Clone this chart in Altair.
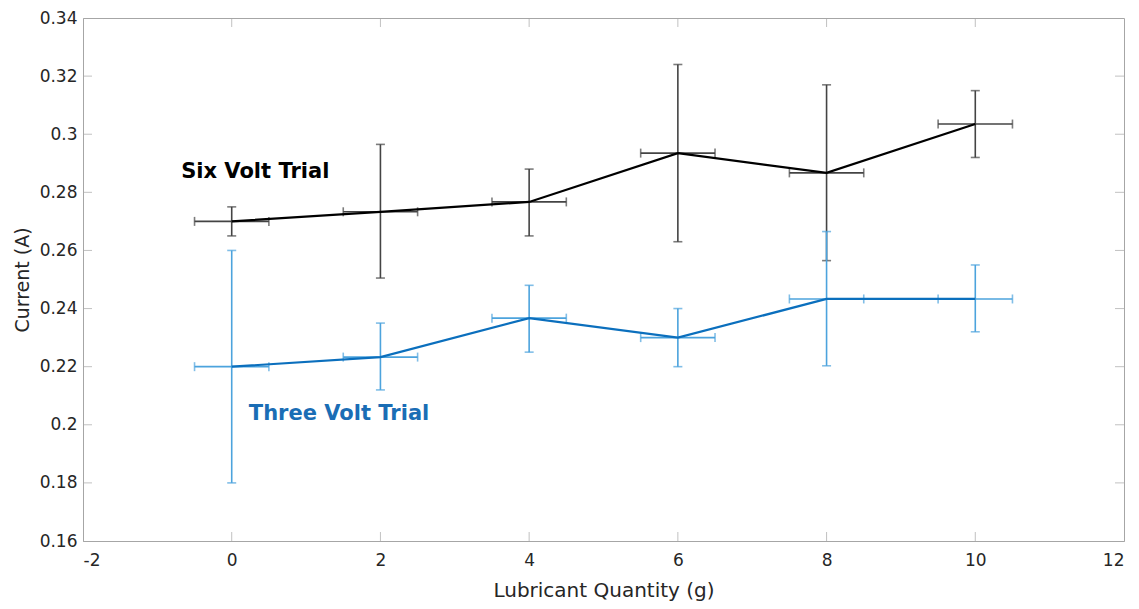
import altair as alt
import pandas as pd

x_vals = [0, 2, 4, 6, 8, 10]
x_err = [0.5, 0.5, 0.5, 0.5, 0.5, 0.5]

six_mean = [0.270, 0.2733, 0.2767, 0.2935, 0.2867, 0.3035]
six_low = [0.265, 0.2505, 0.265, 0.263, 0.2565, 0.292]
six_high = [0.275, 0.2965, 0.288, 0.324, 0.317, 0.315]

three_mean = [0.220, 0.2233, 0.2367, 0.230, 0.2433, 0.2433]
three_low = [0.180, 0.212, 0.225, 0.220, 0.2203, 0.232]
three_high = [0.260, 0.235, 0.248, 0.240, 0.2665, 0.255]

x_ticks = [-2, 0, 2, 4, 6, 8, 10, 12]
y_ticks = [0.16, 0.18, 0.2, 0.22, 0.24, 0.26, 0.28, 0.3, 0.32, 0.34]

labels = ["Six Volt Trial", "Three Volt Trial"]
label_x = [-0.68, 0.23]
label_y = [0.2869, 0.2036]

W, H = 1041, 523
FONT = "DejaVu Sans"
FRAME = "#a6a6a6"
TXT = "#262626"

rows = []
for s, m, lo, hi in [("six", six_mean, six_low, six_high), ("three", three_mean, three_low, three_high)]:
    for i, x in enumerate(x_vals):
        rows.append(dict(series=s, x=x, y=m[i], ylo=lo[i], yhi=hi[i],
                         xlo=x - x_err[i], xhi=x + x_err[i]))
df = pd.DataFrame(rows)

xs = alt.Scale(domain=[x_ticks[0], x_ticks[-1]], nice=False, zero=False)
ys = alt.Scale(domain=[y_ticks[0], y_ticks[-1]], nice=False, zero=False)

xax = alt.Axis(values=x_ticks, title="Lubricant Quantity (g)", grid=False, tickSize=0,
               labelFontSize=17, titleFontSize=20, labelFont=FONT, titleFont=FONT,
               labelColor=TXT, titleColor=TXT, labelPadding=11, titlePadding=12,
               domainColor=FRAME, titleFontWeight="normal",
               labelExpr="'' + datum.value")
yax = alt.Axis(values=y_ticks, title="Current (A)", grid=False, tickSize=0,
               labelFontSize=17, titleFontSize=19, labelFont=FONT, titleFont=FONT,
               labelColor=TXT, titleColor=TXT, labelPadding=6,
               titleX=-61, titleBaseline="middle", titleAngle=270,
               domainColor=FRAME, titleFontWeight="normal",
               labelExpr="format(datum.value, '.2~f')")

base = alt.Chart(df)

layers = [
    base.mark_point(opacity=0).encode(
        x=alt.X("x:Q", scale=xs, axis=xax),
        y=alt.Y("y:Q", scale=ys, axis=yax)),
]

# inward ticks on all four sides of the box
inner = [t for t in x_ticks[1:-1]]
inner_y = [t for t in y_ticks[1:-1]]
xt_df = pd.DataFrame({"t": inner, "b": [y_ticks[0]] * len(inner), "tp": [y_ticks[-1]] * len(inner)})
yt_df = pd.DataFrame({"t": inner_y, "l": [x_ticks[0]] * len(inner_y), "r": [x_ticks[-1]] * len(inner_y)})
layers.append(alt.Chart(xt_df).mark_tick(color=FRAME, orient="vertical", size=9, thickness=1, yOffset=-4.5).encode(
    x=alt.X("t:Q", scale=xs), y=alt.Y("b:Q", scale=ys)))
layers.append(alt.Chart(xt_df).mark_tick(color=FRAME, orient="vertical", size=9, thickness=1, yOffset=4.5).encode(
    x=alt.X("t:Q", scale=xs), y=alt.Y("tp:Q", scale=ys)))
layers.append(alt.Chart(yt_df).mark_tick(color=FRAME, orient="horizontal", size=9, thickness=1, xOffset=4.5).encode(
    y=alt.Y("t:Q", scale=ys), x=alt.X("l:Q", scale=xs)))
layers.append(alt.Chart(yt_df).mark_tick(color=FRAME, orient="horizontal", size=9, thickness=1, xOffset=-4.5).encode(
    y=alt.Y("t:Q", scale=ys), x=alt.X("r:Q", scale=xs)))

colors = {"six": ("#444444", "#000000"), "three": ("#4ca3dd", "#0b6fbd")}
for s in ["six", "three"]:
    bar_c, line_c = colors[s]
    d = base.transform_filter(alt.datum.series == s)
    layers.append(d.mark_rule(color=bar_c, strokeWidth=1.6).encode(
        x=alt.X("x:Q", scale=xs), y=alt.Y("ylo:Q", scale=ys), y2="yhi:Q"))
    layers.append(d.mark_rule(color=bar_c, strokeWidth=1.6).encode(
        y=alt.Y("y:Q", scale=ys), x=alt.X("xlo:Q", scale=xs), x2="xhi:Q"))
    for f in ["ylo", "yhi"]:
        layers.append(d.mark_tick(color=bar_c, orient="horizontal", size=9, thickness=1.6).encode(
            x=alt.X("x:Q", scale=xs), y=alt.Y(f + ":Q", scale=ys)))
    for f in ["xlo", "xhi"]:
        layers.append(d.mark_tick(color=bar_c, orient="vertical", size=9, thickness=1.6).encode(
            x=alt.X(f + ":Q", scale=xs), y=alt.Y("y:Q", scale=ys)))
    layers.append(d.mark_line(color=line_c, strokeWidth=2.2).encode(
        x=alt.X("x:Q", scale=xs), y=alt.Y("y:Q", scale=ys)))

lab_df = pd.DataFrame({"label": labels, "x": label_x, "y": label_y, "c": ["black", "blue"]})
layers.append(alt.Chart(lab_df).mark_text(align="left", baseline="middle", font=FONT,
                                          fontSize=21, fontWeight="bold").encode(
    x=alt.X("x:Q", scale=xs), y=alt.Y("y:Q", scale=ys), text="label:N",
    color=alt.Color("c:N", scale=alt.Scale(domain=["black", "blue"], range=["#000000", "#1a6db5"]),
                    legend=None)))

chart = alt.layer(*layers).properties(
    width=W, height=H,
    autosize=alt.AutoSizeParams(type="none"),
    padding={"left": 75, "top": 10, "right": 7, "bottom": 60},
    background="white",
).configure_view(stroke=FRAME, strokeWidth=1)

chart.save("out.html", embed_options={"renderer": "svg", "actions": False})
